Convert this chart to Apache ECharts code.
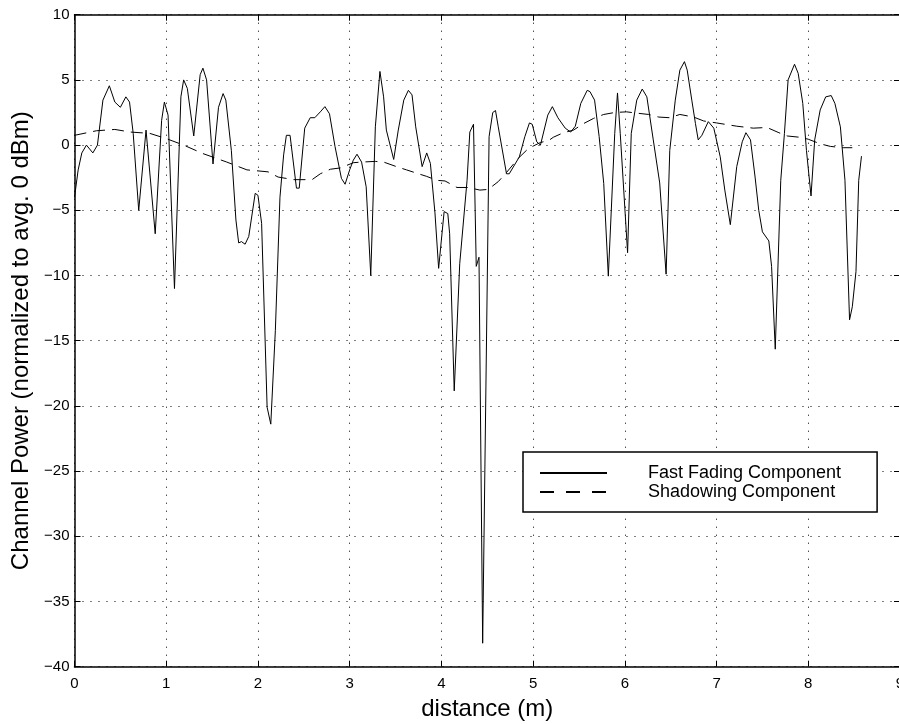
<!DOCTYPE html>
<html>
<head>
<meta charset="utf-8">
<script src="https://cdn.jsdelivr.net/npm/echarts@6/dist/echarts.min.js"></script>
<style>
html,body{margin:0;padding:0;background:#fff;}
#chart{width:899px;height:724px;}
</style>
</head>
<body>
<div id="chart"></div>
<script>
// Fast fading component (distance in m, power in dB)
const fastX = [0.00,0.04,0.08,0.13,0.20,0.25,0.31,0.38,0.44,0.50,0.56,0.60,0.64,0.70,0.78,0.80,0.88,0.95,0.98,1.02,
1.09,1.16,1.19,1.23,1.30,1.37,1.40,1.44,1.51,1.57,1.62,1.65,1.71,1.76,1.79,1.82,1.86,1.90,1.97,2.00,
2.04,2.10,2.14,2.19,2.24,2.28,2.31,2.35,2.42,2.45,2.51,2.57,2.62,2.68,2.73,2.78,2.84,2.91,2.95,3.00,
3.04,3.08,3.13,3.18,3.23,3.28,3.33,3.37,3.40,3.48,3.53,3.59,3.64,3.68,3.72,3.79,3.84,3.88,3.93,3.97,
4.03,4.07,4.09,4.14,4.20,4.28,4.31,4.35,4.38,4.41,4.45,4.52,4.56,4.59,4.62,4.71,4.74,4.85,4.91,4.96,
4.99,5.04,5.08,5.16,5.21,5.27,5.35,5.41,5.46,5.52,5.59,5.62,5.67,5.72,5.77,5.82,5.89,5.92,5.95,6.03,
6.07,6.13,6.19,6.24,6.31,6.38,6.45,6.49,6.55,6.60,6.65,6.68,6.73,6.77,6.80,6.84,6.91,6.97,7.04,7.09,
7.15,7.22,7.28,7.32,7.37,7.42,7.46,7.50,7.57,7.60,7.64,7.70,7.74,7.78,7.85,7.89,7.94,7.98,8.03,8.07,
8.13,8.19,8.25,8.29,8.35,8.40,8.45,8.48,8.52,8.55,8.58];
const fastY = [-4.0,-1.9,-0.6,0.0,-0.6,0.0,3.45,4.55,3.3,2.9,3.7,3.3,0.9,-5.0,1.15,1.15,-6.8,1.9,3.3,2.3,
-11.0,3.7,5.0,4.35,0.7,5.4,5.9,5.0,-1.45,2.9,3.95,3.45,-0.4,-5.75,-7.5,-7.4,-7.6,-7.0,-3.7,-3.85,
-6.0,-20.1,-21.4,-14.2,-4.0,-0.75,0.75,0.75,-3.3,-3.3,1.3,2.1,2.1,2.55,2.95,2.4,-0.1,-2.55,-3.0,-1.9,
-1.15,-0.7,-1.3,-3.2,-10.0,1.4,5.65,3.7,1.15,-1.1,1.15,3.45,4.2,3.85,1.4,-1.65,-0.6,-1.4,-5.2,-9.45,
-5.1,-5.25,-6.8,-18.85,-9.1,-2.7,1.0,1.6,-9.3,-8.6,-38.2,0.65,2.5,2.65,1.4,-2.2,-2.2,-0.9,0.65,1.7,
1.6,0.25,0.0,2.3,2.95,2.1,1.3,1.0,1.45,3.2,4.2,4.1,3.45,0.65,-2.95,-10.05,0.9,4.0,0.9,-8.25,
0.9,3.45,4.3,3.7,0.4,-2.9,-9.9,-0.4,3.45,5.75,6.4,5.75,3.45,1.65,0.4,0.75,1.8,1.3,-0.9,-3.45,
-6.1,-1.65,0.25,0.95,0.4,-2.45,-5.0,-6.65,-7.35,-9.3,-15.65,-2.7,0.9,5.0,6.2,5.5,3.2,-0.4,-3.9,0.4,
2.7,3.7,3.8,3.2,1.4,-2.7,-13.4,-12.4,-9.7,-2.7,-0.85];

// Shadowing component
const shadX = [0.00,0.24,0.44,0.61,0.82,1.00,1.19,1.40,1.66,1.88,2.11,2.22,2.39,2.46,2.59,2.68,2.79,2.90,3.04,3.13,
3.28,3.37,3.51,3.62,3.75,3.84,3.95,4.04,4.17,4.29,4.42,4.51,4.62,4.71,4.84,4.95,5.08,5.17,5.22,5.33,
5.44,5.55,5.66,5.77,5.89,6.02,6.13,6.26,6.37,6.49,6.60,6.75,6.86,7.00,7.22,7.40,7.55,7.68,7.77,7.91,
8.00,8.13,8.24,8.38,8.48];
const shadY = [0.75,1.1,1.2,1.0,0.9,0.5,0.0,-0.65,-1.3,-1.9,-2.05,-2.45,-2.65,-2.65,-2.65,-2.2,-1.85,-1.75,-1.35,-1.3,
-1.25,-1.3,-1.65,-1.9,-2.2,-2.4,-2.7,-2.75,-3.25,-3.25,-3.45,-3.4,-2.8,-2.1,-1.0,-0.25,0.2,0.35,0.6,0.95,
1.15,1.65,2.05,2.35,2.5,2.55,2.45,2.35,2.15,2.1,2.35,2.15,1.85,1.7,1.45,1.3,1.35,0.95,0.7,0.6,
0.45,0.1,-0.1,-0.2,-0.2];

const seriesNames = ['Fast Fading Component', 'Shadowing Component'];
const xLabel = 'distance (m)';
const yLabel = 'Channel Power (normalized to avg. 0 dBm)';

const FONT = '"Liberation Sans", Arial, Helvetica, sans-serif';
const pair = (xs, ys) => xs.map((x, i) => [x, ys[i]]);
const fmtMinus = v => String(v).replace('-', '\u2212');

const gridLine = { show: true, lineStyle: { color: '#000', width: 1, type: [1, 7] } };
const axisLineStyle = { show: true, onZero: false, lineStyle: { color: '#000', width: 1.5 } };
const tickStyle = { show: true, inside: true, length: 6, lineStyle: { color: '#000', width: 1 } };

const chart = echarts.init(document.getElementById('chart'), null, { renderer: 'canvas' });
chart.setOption({
  animation: false,
  backgroundColor: '#fff',
  grid: { left: 74.5, top: 14.7, width: 825.5, height: 652, containLabel: false, outerBoundsMode: 'none' },
  xAxis: [
    {
      type: 'value', min: 0, max: 9, interval: 1, position: 'bottom',
      name: xLabel, nameLocation: 'middle', nameGap: 31,
      nameTextStyle: { fontFamily: FONT, fontSize: 24, color: '#000' },
      axisLine: axisLineStyle, axisTick: tickStyle,
      axisLabel: { fontFamily: FONT, fontSize: 15, color: '#000', margin: 10, showMaxLabel: true, hideOverlap: false },
      splitLine: gridLine
    },
    {
      type: 'value', min: 0, max: 9, interval: 1, position: 'top',
      axisLine: axisLineStyle, axisTick: tickStyle, axisLabel: { show: false }, splitLine: { show: false }
    }
  ],
  yAxis: [
    {
      type: 'value', min: -40, max: 10, interval: 5, position: 'left',
      name: yLabel, nameLocation: 'middle', nameGap: 41,
      nameTextStyle: { fontFamily: FONT, fontSize: 24, color: '#000' },
      axisLine: axisLineStyle, axisTick: tickStyle,
      axisLabel: { fontFamily: FONT, fontSize: 15, color: '#000', margin: 5, formatter: fmtMinus },
      splitLine: gridLine
    },
    {
      type: 'value', min: -40, max: 10, interval: 5, position: 'right',
      axisLine: axisLineStyle, axisTick: tickStyle, axisLabel: { show: false }, splitLine: { show: false }
    }
  ],
  legend: {
    orient: 'vertical', left: 523, top: 452,
    backgroundColor: '#fff', borderColor: '#000', borderWidth: 1.5,
    padding: [12, 36, 11, 16],
    itemWidth: 67, itemHeight: 18, itemGap: 1,
    data: [
      { name: seriesNames[0] },
      { name: seriesNames[1], lineStyle: { type: [14, 12] } }
    ],
    itemStyle: { opacity: 0 },
    formatter: name => '{t|' + name + '}',
    textStyle: {
      fontFamily: FONT, fontSize: 18, color: '#000',
      rich: { t: { fontFamily: FONT, fontSize: 18, color: '#000', lineHeight: 18, padding: [0, 0, 0, 36] } }
    }
  },
  series: [
    {
      name: seriesNames[0], type: 'line', data: pair(fastX, fastY),
      symbol: 'none', lineStyle: { color: '#000', width: 1 }, itemStyle: { color: '#000' }, z: 3
    },
    {
      name: seriesNames[1], type: 'line', data: pair(shadX, shadY),
      symbol: 'none', lineStyle: { color: '#000', width: 1, type: [12, 7] }, itemStyle: { color: '#000' }, z: 2
    }
  ]
});
</script>
</body>
</html>
